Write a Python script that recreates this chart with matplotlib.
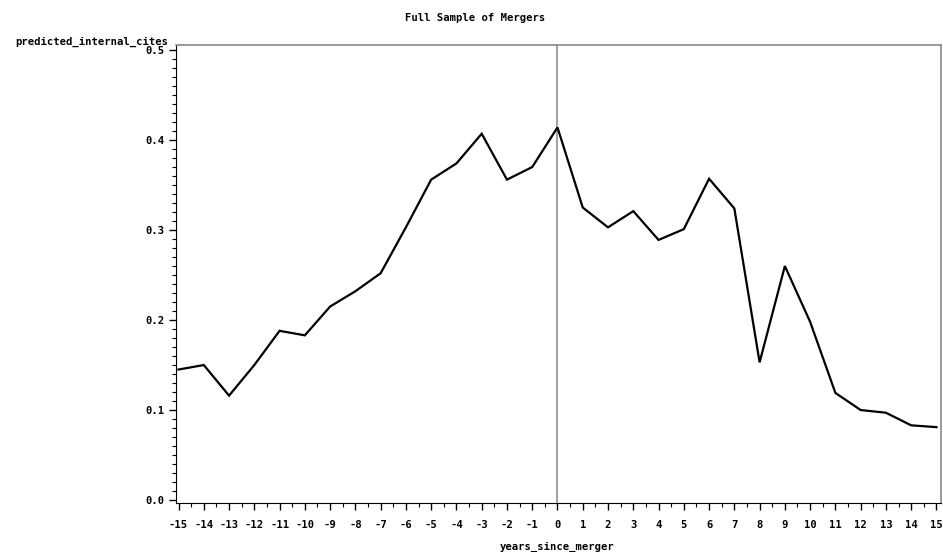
import matplotlib.pyplot as plt
from matplotlib.ticker import MultipleLocator

# years relative to merger and the predicted share of internal cites
years = list(range(-15, 16))
cites = [0.145, 0.150, 0.116, 0.150, 0.188, 0.183, 0.215, 0.232, 0.252, 0.303,
         0.356, 0.374, 0.407, 0.356, 0.370, 0.414, 0.325, 0.303, 0.321, 0.289,
         0.301, 0.357, 0.324, 0.153, 0.260, 0.198, 0.119, 0.100, 0.097, 0.083,
         0.081]
y_ticks = [0.0, 0.1, 0.2, 0.3, 0.4, 0.5]

plt.rcParams['font.family'] = 'DejaVu Sans Mono'
fs = 7.6
fig = plt.figure(figsize=(9.43, 5.52), dpi=100)
ax = fig.add_axes([176 / 943, (552 - 503) / 552, (941 - 176) / 943, (503 - 45) / 552])

ax.plot(years, cites, color='black', lw=1.6, solid_joinstyle='miter')
ax.axvline(0, color='#888888', lw=1.1, zorder=0)

ax.set_xlim(-15.1, 15.18)
ax.set_ylim(-0.0033, 0.5056)
ax.set_xticks(years)
ax.set_xticklabels([str(y) for y in years])
ax.xaxis.set_minor_locator(MultipleLocator(0.5))
ax.set_yticks(y_ticks)
ax.set_yticklabels([f'{v:.1f}' for v in y_ticks])
ax.yaxis.set_minor_locator(MultipleLocator(0.01))

ax.tick_params(axis='both', which='major', direction='out', length=5, width=1,
               labelsize=fs)
ax.tick_params(axis='both', which='minor', direction='out', length=3, width=0.8)
ax.tick_params(axis='x', which='major', pad=7)
for lab in ax.get_xticklabels() + ax.get_yticklabels():
    lab.set_fontweight('bold')

ax.spines['top'].set_color('#888888')
ax.spines['right'].set_color('#888888')
ax.spines['top'].set_linewidth(1.2)
ax.spines['right'].set_linewidth(1.2)

fig.text(475 / 943, 1 - 18 / 552, 'Full Sample of Mergers', ha='center', va='center',
         fontsize=fs, fontweight='bold')
fig.text(168 / 943, 1 - 42 / 552, 'predicted_internal_cites', ha='right', va='center',
         fontsize=fs, fontweight='bold')
fig.text(557 / 943, 1 - 547 / 552, 'years_since_merger', ha='center', va='center',
         fontsize=fs, fontweight='bold')

fig.savefig('out.png', dpi=100)
